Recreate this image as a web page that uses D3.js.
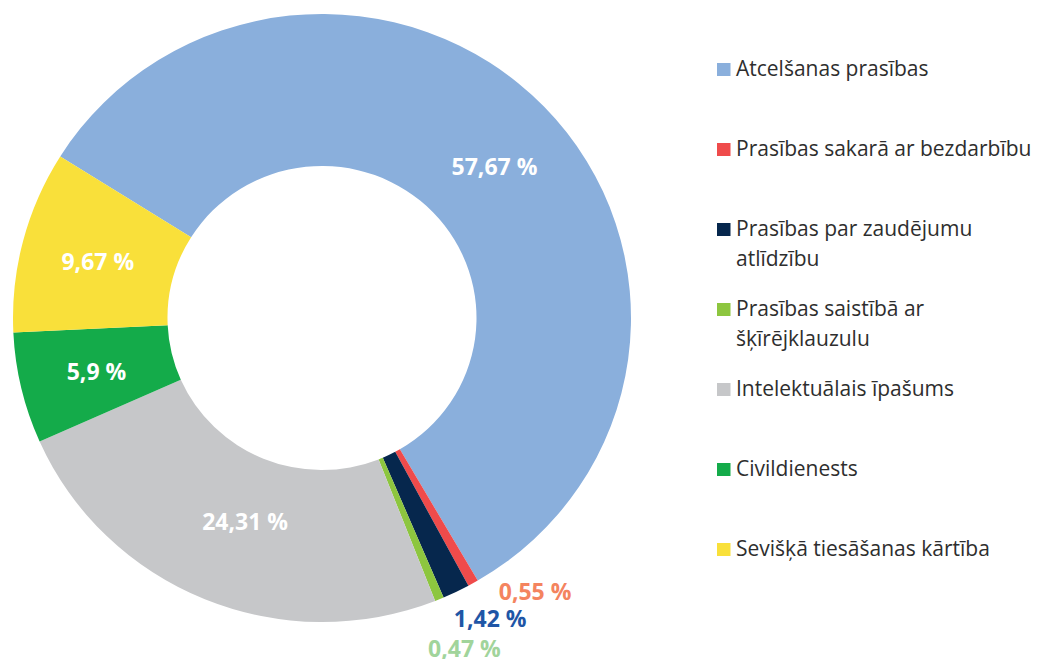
<!DOCTYPE html>
<html>
<head>
<meta charset="utf-8">
<script src="https://cdn.jsdelivr.net/npm/d3@7"></script>
<style>
  body { margin: 0; background: #fff; }
  svg { display: block; font-family: "Open Sans", "Noto Sans", sans-serif; }
</style>
</head>
<body>
<div id="chart"></div>
<script>
// dati
var categories = [
    "Atcelšanas prasības",
    "Prasības sakarā ar bezdarbību",
    "Prasības par zaudējumu atlīdzību",
    "Prasības saistībā ar šķīrējklauzulu",
    "Intelektuālais īpašums",
    "Civildienests",
    "Sevišķā tiesāšanas kārtība"
]
var values = [57.67, 0.55, 1.42, 0.47, 24.31, 5.9, 9.67]
var labels = ["57,67 %", "0,55 %", "1,42 %", "0,47 %", "24,31 %", "5,9 %", "9,67 %"]
// legend rindas (garie nosaukumi lauzti divās rindās)
var legendLines = [
    ["Atcelšanas prasības"],
    ["Prasības sakarā ar bezdarbību"],
    ["Prasības par zaudējumu", "atlīdzību"],
    ["Prasības saistībā ar", "šķīrējklauzulu"],
    ["Intelektuālais īpašums"],
    ["Civildienests"],
    ["Sevišķā tiesāšanas kārtība"]
]

var colors = ["#8aafdc", "#ef4b4b", "#06274d", "#8dc63f", "#c6c7c9", "#14ab4a", "#f9e03a"]
var smallLabelColors = {1: "#f4845f", 2: "#1f56a6", 3: "#a1d49b"}

var width = 1037, height = 659
var cx = 322, cy = 318
var outerR = 309, innerR = 154.5
var squash = 0.984   // ring is a bit flatter vertically

var svg = d3.select("#chart")
    .append("svg")
    .attr("width", width)
    .attr("height", height)

var pie = d3.pie()
    .sort(null)
    .startAngle(-57.9 * Math.PI / 180)
    .endAngle((360 - 57.9) * Math.PI / 180)
    .value(function (d) { return d })

var arcs = pie(values)

var arc = d3.arc().innerRadius(innerR).outerRadius(outerR)
var outerArc = d3.arc().innerRadius(outerR).outerRadius(outerR)

var ring = svg.append("g")
    .attr("transform", "translate(" + cx + "," + cy + ") scale(1," + squash + ")")

ring.selectAll(".slice")
    .data(arcs)
    .enter()
    .append("path")
    .attr("class", "slice")
    .attr("d", arc)
    .attr("fill", function (d, i) { return colors[i] })

// uzraksti
var labelG = svg.append("g")
    .attr("transform", "translate(" + cx + "," + cy + ")")

// mazajiem sektoriem uzraksts ārpusē, kāpņveidīgi uz leju
var smallOffsets = {1: [62, 9], 2: [34, 27], 3: [25, 50]}
// lielajiem neliela nobīde no centroīda
var nudge = {0: [6, 8], 4: [11, -7], 5: [0, 1], 6: [0, 2]}

labelG.selectAll(".lbl")
    .data(arcs)
    .enter()
    .append("text")
    .attr("class", "lbl")
    .attr("text-anchor", "middle")
    .attr("font-size", 23)
    .attr("font-weight", 700)
    .attr("dy", "0.35em")
    .attr("fill", function (d, i) { return smallLabelColors[i] || "#fff" })
    .attr("x", function (d, i) {
        if (smallOffsets[i]) return outerArc.centroid(d)[0] + smallOffsets[i][0]
        return arc.centroid(d)[0] + nudge[i][0]
    })
    .attr("y", function (d, i) {
        if (smallOffsets[i]) return outerArc.centroid(d)[1] * squash + smallOffsets[i][1]
        return arc.centroid(d)[1] * squash + nudge[i][1]
    })
    .text(function (d, i) { return labels[i] })

// leģenda
var legend = svg.append("g")
    .attr("transform", "translate(717,76)")

var item = legend.selectAll(".item")
    .data(categories)
    .enter()
    .append("g")
    .attr("class", "item")
    .attr("transform", function (d, i) { return "translate(0," + (i * 80) + ")" })

item.append("rect")
    .attr("x", 0)
    .attr("y", -13)
    .attr("width", 13.5)
    .attr("height", 13)
    .attr("fill", function (d, i) { return colors[i] })

item.append("text")
    .attr("x", 19)
    .attr("y", 0)
    .attr("font-size", 21)
    .attr("fill", "#2e2e2e")
    .selectAll("tspan")
    .data(function (d, i) { return legendLines[i] })
    .enter()
    .append("tspan")
    .attr("x", 19)
    .attr("dy", function (d, j) { return j == 0 ? 0 : 29.5 })
    .text(function (d) { return d })
</script>
</body>
</html>
